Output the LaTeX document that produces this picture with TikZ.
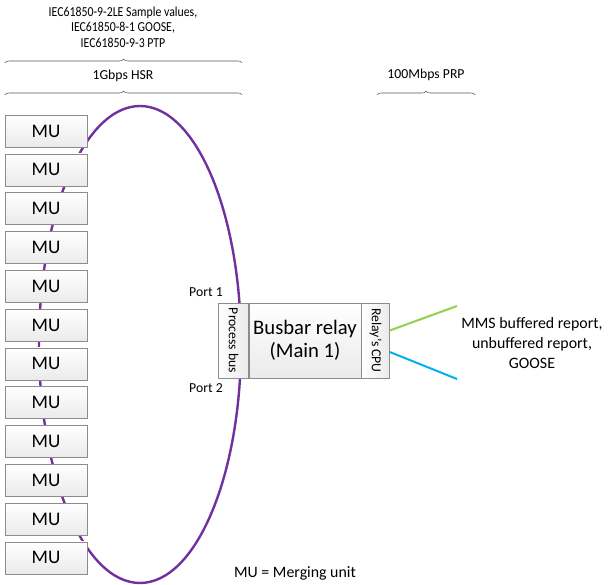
\documentclass[tikz,border=0pt]{standalone}
\usepackage{fontspec}
\setmainfont{Carlito}
\newfontfamily\narrowFont[FakeStretch=0.86]{Carlito}
\usetikzlibrary{calc}
\usetikzlibrary{positioning}
\usetikzlibrary{decorations.pathreplacing}
\definecolor{ringPurple}{HTML}{7030A0}
\definecolor{linkGreen}{HTML}{92D050}
\definecolor{linkBlue}{HTML}{00B0F0}
\definecolor{boxBorder}{HTML}{8C8C8C}
\newcommand{\ringColor}{ringPurple}
\newcommand{\muPitch}{38.8}
\newcommand{\smallFont}{\fontsize{10.3}{11.6}\selectfont}
\newcommand{\mediumFont}{\fontsize{11.9}{15}\selectfont}
\tikzset{muBox/.style = {draw=boxBorder, top color=white, bottom color=gray!16,
    minimum width=61.5pt, minimum height=24pt, inner sep=0pt, font=\fontsize{14.4}{16}\selectfont}}
\tikzset{relayBox/.style = {draw=boxBorder, top color=white, bottom color=gray!16,
    minimum width=84pt, minimum height=56.25pt, inner sep=0pt, align=center,
    font=\fontsize{15.5}{17.5}\selectfont}}
\tikzset{sideBox/.style = {draw=boxBorder, left color=white, right color=gray!16, rotate=-90,
    minimum width=56.25pt, inner sep=0pt, font=\smallFont}}
\tikzset{ring/.style = {\ringColor, line width=1.8pt}}
\tikzset{link/.style = {line width=1.5pt}}
\tikzset{braceLine/.style = {decorate, decoration={brace, amplitude=3pt}, gray!70!black, thin}}
\tikzset{textNode/.style = {align=center, inner sep=0pt}}

\begin{document}
\begin{tikzpicture}[x=0.75pt, y=-0.75pt]
    \useasboundingbox (0,0) rectangle (615,585);

    % HSR ring behind the units
    \draw[ring] (140,344.5) ellipse [x radius=101, y radius=238.5];

    \foreach \i in {1,...,12}
    {
        \node[muBox] (mu\i) at (46, 131+\muPitch*\i-\muPitch) {MU};
    }

    \node[relayBox] (relay) at (305,340.5) {Busbar relay\\(Main 1)};
    \node[sideBox, minimum height=22.5pt, anchor=north] (pbus) at (relay.west) {Process bus};
    \node[sideBox, minimum height=21pt, anchor=south] (cpu) at (relay.east) {Relay's CPU};

    \node[textNode, font=\smallFont] (port1) at (206,292) {Port 1};
    \node[textNode, font=\smallFont] (port2) at (206,388) {Port 2};

    \coordinate (mmsTop) at (457,306);
    \coordinate (mmsBot) at (457,379);
    \draw[link, linkGreen] ($(cpu.north)+(0,-10)$) -- (mmsTop);
    \draw[link, linkBlue] ($(cpu.north)+(0,11.5)$) -- (mmsBot);
    \node[textNode, font=\mediumFont] (mms) at (532,343)
        {MMS buffered report,\\unbuffered report,\\GOOSE};

    % protocols and networks
    \node[textNode, font=\narrowFont\smallFont] (proto) at (123,27)
        {IEC61850-9-2LE Sample values,\\IEC61850-8-1 GOOSE,\\IEC61850-9-3 PTP};
    \coordinate (protoL) at (5,63);
    \coordinate (protoR) at (242,63);
    \draw[braceLine] (protoL) -- (protoR);

    \node[textNode, font=\smallFont] (hsr) at (123,76) {1Gbps HSR};
    \coordinate (hsrL) at (5,95);
    \coordinate (hsrR) at (242,95);
    \draw[braceLine] (hsrL) -- (hsrR);

    \node[textNode, font=\smallFont] (prp) at (426,75) {100Mbps PRP};
    \coordinate (prpL) at (377,95);
    \coordinate (prpR) at (475,95);
    \draw[braceLine] (prpL) -- (prpR);

    \node[textNode, font=\mediumFont] (legend) at (295,573) {MU = Merging unit};
\end{tikzpicture}
\end{document}
